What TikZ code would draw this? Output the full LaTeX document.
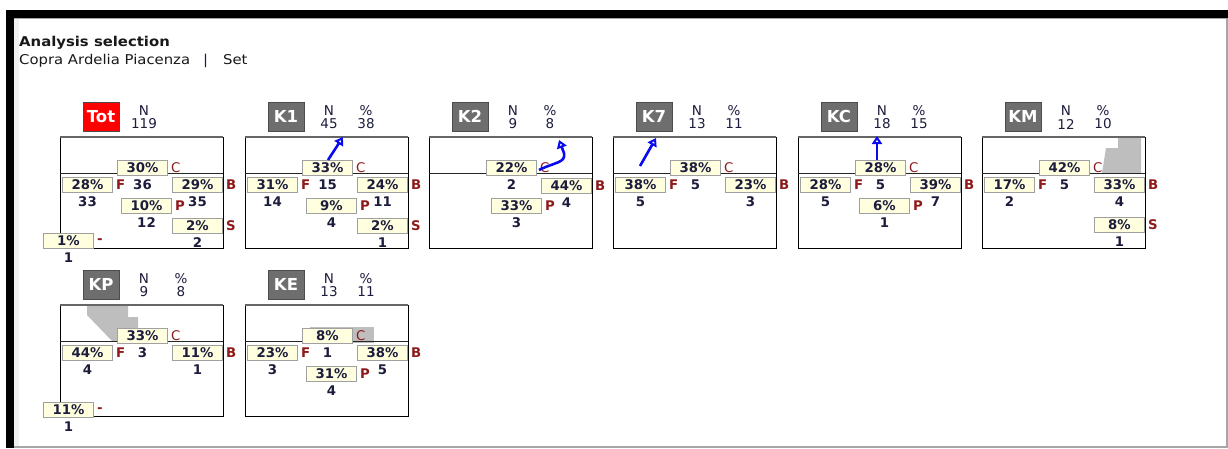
\documentclass[tikz,border=0pt]{standalone}
\usepackage{fontspec}
\setmainfont{DejaVu Sans}
\newfontfamily\wideface[FakeStretch=1.1]{DejaVu Sans}
\usetikzlibrary{arrows.meta,calc}
\definecolor{navy}{HTML}{1C1C3C}
\definecolor{codered}{HTML}{8E1A1A}
\definecolor{boxyellow}{HTML}{FFFFE0}
\definecolor{boxgray}{HTML}{A0A0A0}
\definecolor{labgray}{HTML}{6E6E6E}
\definecolor{labred}{HTML}{FF0000}
\definecolor{arrowblue}{HTML}{0A0AF0}
\definecolor{shadegray}{HTML}{BEBEBE}
\newcommand{\valfont}{\fontsize{13.3}{13.3}\selectfont\bfseries}
\newcommand{\hdrfont}{\fontsize{13.5}{13.5}\selectfont}
\newcommand{\labfont}{\fontsize{16.5}{16.5}\selectfont\bfseries}
\tikzset{
  panel/.style={draw=black, line width=1pt},
  topline/.style={draw=black!60, line width=2.4pt},
  midline/.style={draw=black!85, line width=0.9pt},
  lab/.style={draw=black!70, line width=1pt, text=white, font=\labfont, minimum width=36pt, minimum height=29pt, inner sep=0pt},
  hdr/.style={font=\hdrfont, text=navy, inner sep=0pt},
  valbox/.style={draw=boxgray, fill=boxyellow, line width=1pt, minimum width=50pt, minimum height=15pt, inner sep=0pt, font=\valfont, text=navy, anchor=north west},
  code/.style={font=\valfont, text=codered, inner sep=0pt, anchor=west},
  num/.style={font=\valfont, text=navy, inner sep=0pt},
  flow/.style={draw=arrowblue, line width=2.6pt, -{Triangle[open, length=8pt, width=10pt, line width=2pt]}},
  shade/.style={fill=shadegray, draw=none}
}
\newcommand{\panelframe}[4]{%
  \draw[panel] (0,0) rectangle (163,111);
  \draw[midline] (0,36) -- (163,36);
  \draw[topline] (0,0) -- (163,0);
  \node[lab, fill=#3] (#1-lab) at (41,-20.5) {#2};
  \node[hdr] (#1-nh) at (84,-26) {N};
  \node[hdr] (#1-nv) at (84,-13) {#4};
}
\newcommand{\pcthead}[2]{%
  \node[hdr] (#1-ph) at (121,-26) {\%};
  \node[hdr] (#1-pv) at (121,-13) {#2};
}
\newcommand{\val}[6]{%
  \node[valbox] (#1) at (#2,#3) {#4\%};
  \node[code] (#1-c) at ([xshift=3pt]#1.east) {#5};
  \node[num] (#1-n) at ([yshift=-8.5pt]#1.south) {#6};
}
\begin{document}
\begin{tikzpicture}[x=1pt,y=-1pt]
\useasboundingbox (0,0) rectangle (1228,448);
% window frame
\fill[gray!12] (14,18) rectangle (19,447);
\fill[black] (7,10) rectangle (1228,18);
\fill[black] (6,10) rectangle (14,448);
\draw[gray!70, line width=1pt] (14,18.5) -- (1228,18.5);
\draw[gray!70, line width=1.5pt] (1227,18) -- (1227,448);
\draw[gray!70, line width=1.5pt] (14,447) -- (1228,447);
% titles
\node[anchor=base west, inner sep=0pt, font=\wideface\fontsize{13.5}{13.5}\selectfont\bfseries, text=black!90] (title) at (19,46) {Analysis selection};
\node[anchor=base west, inner sep=0pt, font=\wideface\fontsize{13.5}{13.5}\selectfont, text=black!90] (subtitle) at (19,64) {Copra Ardelia Piacenza\hspace{13pt}{\color{navy}|}\hspace{15pt}Set};

% Tot
\begin{scope}[shift={(60,137)}]
  \panelframe{tot}{Tot}{labred}{119}
  \val{tot-c}{57}{23}{30}{\mdseries C}{36}
  \val{tot-f}{2}{40}{28}{F}{33}
  \val{tot-b}{112}{40}{29}{B}{35}
  \val{tot-p}{61}{61}{10}{P}{12}
  \val{tot-s}{112}{81}{2}{S}{2}
  \val{tot-d}{-17}{96}{1}{-}{1}
\end{scope}

% K1
\begin{scope}[shift={(245,137)}]
  \panelframe{k1}{K1}{labgray}{45}
  \pcthead{k1}{38}
  \val{k1-c}{57}{23}{33}{\mdseries C}{15}
  \val{k1-f}{2}{40}{31}{F}{14}
  \val{k1-b}{112}{40}{24}{B}{11}
  \val{k1-p}{61}{61}{9}{P}{4}
  \val{k1-s}{112}{81}{2}{S}{1}
  \coordinate (k1-a0) at (83,23);
  \coordinate (k1-a1) at (98,0);
  \draw[flow] (k1-a0) -- (k1-a1);
\end{scope}

% K2
\begin{scope}[shift={(429,137)}]
  \panelframe{k2}{K2}{labgray}{9}
  \pcthead{k2}{8}
  \val{k2-c}{57}{23}{22}{\mdseries C}{2}
  \val{k2-b}{112}{41}{44}{B}{4}
  \val{k2-p}{62}{61}{33}{P}{3}
  \coordinate (k2-a0) at (110,33);
  \coordinate (k2-am) at (135,16);
  \coordinate (k2-a1) at (130,3);
  \draw[flow] (k2-a0) .. controls (126,25) and (137,26) .. (k2-am) -- (k2-a1);
\end{scope}

% K7
\begin{scope}[shift={(613,137)}]
  \panelframe{k7}{K7}{labgray}{13}
  \pcthead{k7}{11}
  \val{k7-c}{57}{23}{38}{\mdseries C}{5}
  \val{k7-f}{2}{40}{38}{F}{5}
  \val{k7-b}{112}{40}{23}{B}{3}
  \coordinate (k7-a0) at (27,29);
  \coordinate (k7-a1) at (43,1);
  \draw[flow] (k7-a0) -- (k7-a1);
\end{scope}

% KC
\begin{scope}[shift={(798,137)}]
  \panelframe{kc}{KC}{labgray}{18}
  \pcthead{kc}{15}
  \val{kc-c}{57}{23}{28}{\mdseries C}{5}
  \val{kc-f}{2}{40}{28}{F}{5}
  \val{kc-b}{112}{40}{39}{B}{7}
  \val{kc-p}{61}{61}{6}{P}{1}
  \coordinate (kc-a0) at (79,23);
  \coordinate (kc-a1) at (79,-1);
  \draw[flow] (kc-a0) -- (kc-a1);
\end{scope}

% KM
\begin{scope}[shift={(982,137)}]
  \fill[shade] (136,0) -- (159,0) -- (159,36) -- (120,36) -- (124,11) -- (136,11) -- cycle;
  \panelframe{km}{KM}{labgray}{12}
  \pcthead{km}{10}
  \val{km-c}{57}{23}{42}{\mdseries C}{5}
  \val{km-f}{2}{40}{17}{F}{2}
  \val{km-b}{112}{40}{33}{B}{4}
  \val{km-s}{112}{80}{8}{S}{1}
\end{scope}

% KP
\begin{scope}[shift={(60,305)}]
  \fill[shade] (27,0) -- (68,0) -- (68,12) -- (78,12) -- (78,36) -- (52,36) -- (27,10) -- cycle;
  \panelframe{kp}{KP}{labgray}{9}
  \pcthead{kp}{8}
  \val{kp-c}{57}{23}{33}{\mdseries C}{3}
  \val{kp-f}{2}{40}{44}{F}{4}
  \val{kp-b}{112}{40}{11}{B}{1}
  \val{kp-d}{-17}{97}{11}{-}{1}
\end{scope}

% KE
\begin{scope}[shift={(245,305)}]
  \fill[shade] (65,22) rectangle (129,38);
  \panelframe{ke}{KE}{labgray}{13}
  \pcthead{ke}{11}
  \val{ke-c}{57}{23}{8}{\mdseries C}{1}
  \val{ke-f}{2}{40}{23}{F}{3}
  \val{ke-b}{112}{40}{38}{B}{5}
  \val{ke-p}{61}{61}{31}{P}{4}
\end{scope}
\end{tikzpicture}
\end{document}
